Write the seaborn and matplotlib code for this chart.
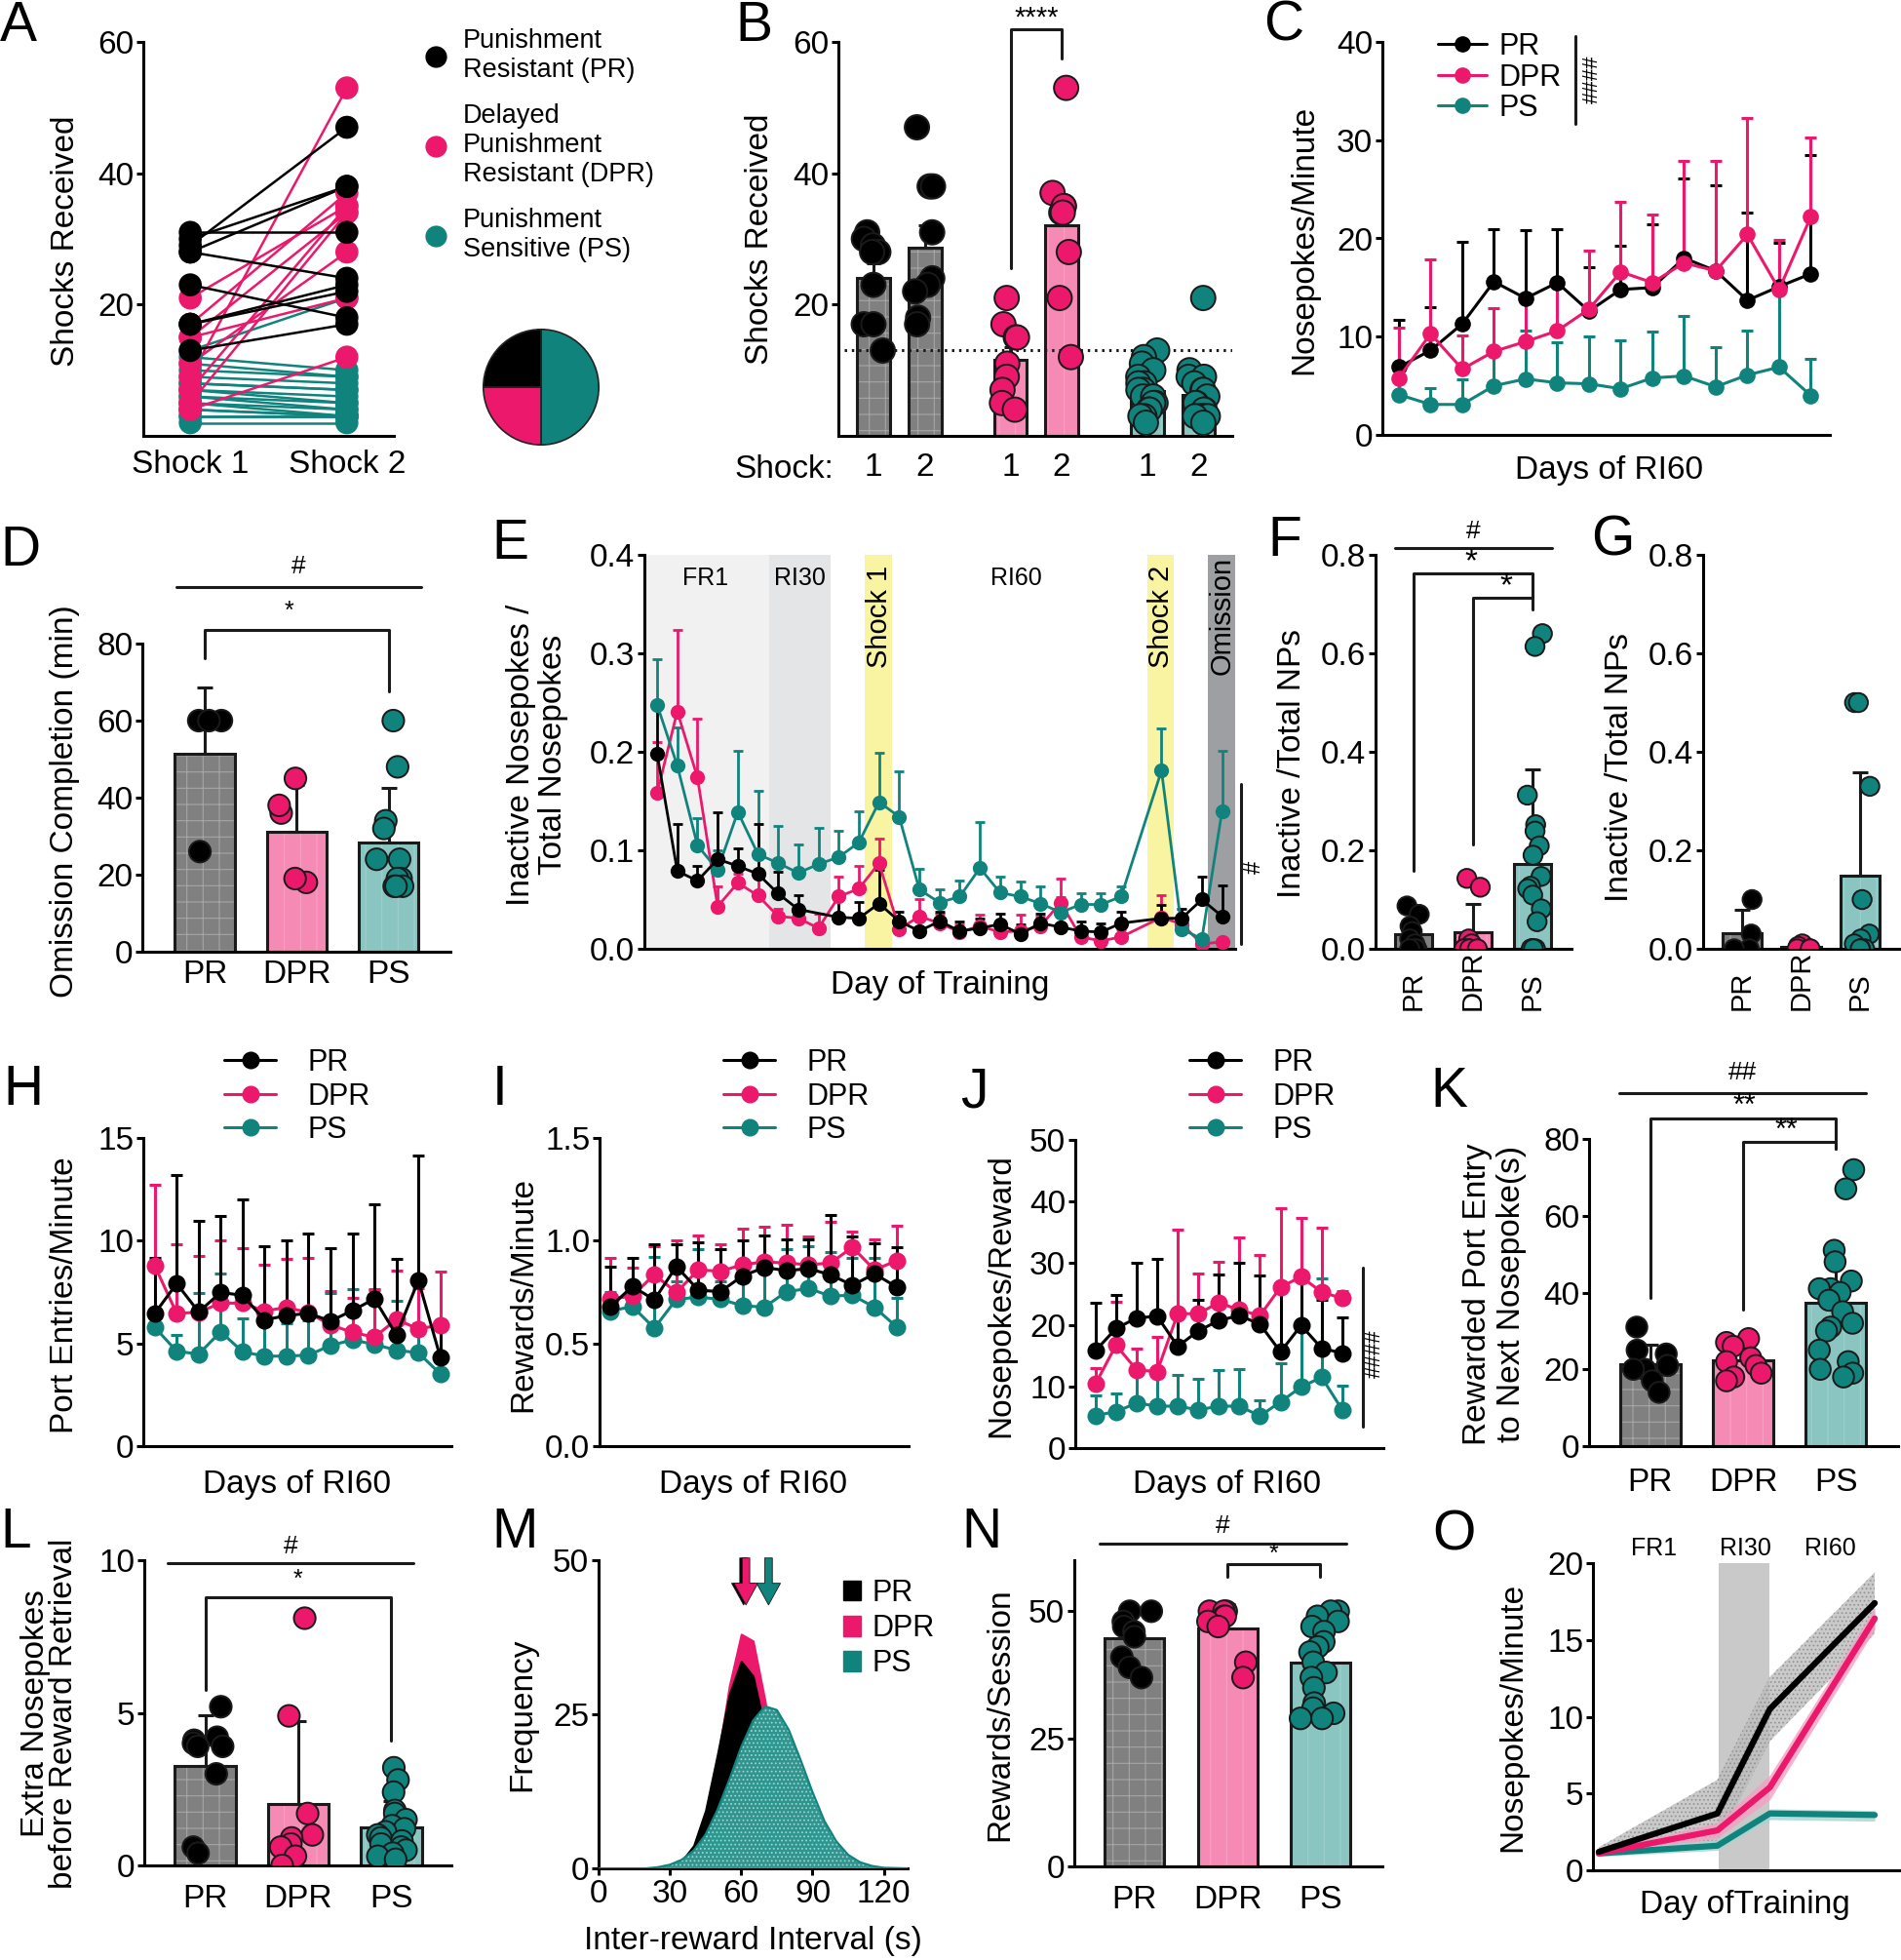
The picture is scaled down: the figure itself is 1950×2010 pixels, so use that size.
import numpy as np
import pandas as pd
import matplotlib
matplotlib.use("Agg")
import matplotlib.pyplot as plt
from matplotlib.colors import to_rgb
from matplotlib.lines import Line2D
from matplotlib.patches import Patch, Rectangle
from matplotlib.ticker import FormatStrFormatter
import seaborn as sns

GROUPS = ["PR", "DPR", "PS"]

# A / B : shocks received per rat in the two punished sessions
SHOCK1_PR = [31, 30, 29, 28, 28, 23, 17, 17, 13]
SHOCK2_PR = [31, 38, 47, 38, 24, 18, 23, 22, 17]
SHOCK1_DPR = [21, 17, 15, 15, 11, 9, 7, 5, 4]
SHOCK2_DPR = [35, 37, 34, 21, 28, 53, 35, 34, 12]
SHOCK1_PS = [13, 12, 11, 10, 9, 8, 8, 7, 7, 6, 6, 5, 5, 4, 4, 3, 3, 2]
SHOCK2_PS = [21, 10, 9, 9, 8, 7, 7, 6, 5, 5, 4, 4, 3, 3, 3, 3, 3, 2]
SHOCK_CUTOFF = 13

# C : nosepokes / minute over RI60 days (mean, top of error bar)
C_PR = [6.9, 8.6, 11.3, 15.6, 13.9, 15.5, 12.6, 14.8, 15.0, 18.0, 16.7, 13.7, 15.1, 16.4]
C_PR_TOP = [11.7, 13.0, 19.7, 20.9, 20.8, 20.9, 17.1, 19.3, 21.4, 26.1, 25.4, 22.6, 19.6, 28.5]
C_DPR = [5.8, 10.3, 6.7, 8.5, 9.5, 10.6, 12.8, 16.6, 15.5, 17.5, 16.7, 20.4, 14.8, 22.2]
C_DPR_TOP = [10.9, 17.9, 10.1, 12.9, 14.4, 15.9, 18.8, 23.7, 22.4, 27.9, 27.9, 32.3, 19.9, 30.3]
C_PS = [4.1, 3.1, 3.1, 5.0, 5.7, 5.3, 5.2, 4.7, 5.8, 6.0, 4.9, 6.1, 6.9, 4.0]
C_PS_TOP = [7.0, 4.8, 5.7, 8.2, 10.6, 9.4, 10.0, 9.6, 10.5, 12.1, 8.9, 10.6, 14.5, 7.7]

# D : omission completion (min)
D_PR = [60, 60, 60, 26]
D_DPR = [45, 36, 38, 18, 19]
D_PS = [60, 48, 34, 32, 24, 24, 19, 19, 17, 17, 17]

# E : inactive / total nosepokes by training day
nan = np.nan
E_DAYS = list(range(24)) + [25, 26, 27, 28]
E_PR = [0.198, 0.079, 0.069, 0.091, 0.084, 0.076, 0.056, 0.040, nan, 0.032,
        0.031, 0.046, 0.028, 0.018, 0.028, 0.018, 0.021, 0.025, 0.015, 0.026,
        0.022, 0.018, 0.017, 0.026, 0.031, 0.031, 0.050, 0.033]
E_PR_TOP = [0.245, 0.127, 0.084, 0.139, 0.102, 0.127, 0.078, 0.054, nan, 0.051,
            0.048, 0.080, 0.038, 0.030, 0.038, 0.028, 0.031, 0.036, 0.025, 0.036,
            0.034, 0.028, 0.026, 0.038, 0.045, 0.041, 0.073, 0.064]
E_DPR = [0.158, 0.241, 0.174, 0.043, 0.067, 0.054, 0.033, 0.031, 0.021, 0.053,
         0.061, 0.087, 0.020, 0.033, 0.026, 0.017, 0.023, 0.017, 0.018, 0.023,
         0.047, 0.012, 0.008, 0.012, 0.032, 0.025, 0.005, 0.007]
E_DPR_TOP = [0.210, 0.324, 0.234, 0.063, 0.076, 0.078, 0.041, 0.040, 0.036, 0.073,
             0.084, 0.112, 0.030, 0.050, 0.036, 0.025, 0.035, 0.028, 0.035, 0.033,
             0.071, 0.020, 0.020, 0.020, 0.054, 0.030, 0.006, 0.008]
E_PS = [0.248, 0.186, 0.105, 0.080, 0.139, 0.096, 0.087, 0.077, 0.086, 0.093,
        0.108, 0.149, 0.134, 0.060, 0.047, 0.053, 0.082, 0.057, 0.053, 0.046,
        0.037, 0.045, 0.045, 0.053, 0.181, 0.020, 0.010, 0.140]
E_PS_TOP = [0.294, 0.225, 0.133, 0.100, 0.201, 0.160, 0.125, 0.106, 0.123, 0.120,
            0.140, 0.199, 0.180, 0.081, 0.060, 0.069, 0.129, 0.073, 0.068, 0.063,
            0.052, 0.056, 0.056, 0.063, 0.224, 0.025, 0.012, 0.201]

# F / G : inactive / total nosepokes per rat
F_PR = [0.087, 0.07, 0.046, 0.035, 0.02, 0.01, 0.0, 0.0, 0.0]
F_DPR = [0.143, 0.125, 0.02, 0.01, 0.0, 0.0, 0.0, 0.0, 0.0]
F_PS = [0.64, 0.614, 0.312, 0.252, 0.239, 0.209, 0.19, 0.147, 0.127,
        0.122, 0.109, 0.081, 0.055, 0.0, 0.0, 0.0, 0.0, 0.0]
G_PR = [0.1, 0.03, 0.0, 0.0]
G_DPR = [0.01, 0.005, 0.0, 0.0, 0.0]
G_PS = [0.5, 0.5, 0.33, 0.1, 0.03, 0.02, 0.01, 0.0, 0.0, 0.0]

# H : port entries / minute
H_PR = [6.46, 7.91, 6.53, 7.48, 7.34, 6.14, 6.36, 6.46, 6.09, 6.6, 7.17, 5.41, 8.07, 4.32]
H_PR_TOP = [9.15, 13.2, 10.97, 11.2, 12.0, 9.73, 10.0, 10.36, 9.65, 10.33, 11.76, 9.1, 14.15, 6.14]
H_DPR = [8.78, 6.46, 6.52, 6.96, 6.96, 6.57, 6.76, 6.49, 5.9, 5.54, 5.3, 6.17, 5.7, 5.9]
H_DPR_TOP = [12.7, 9.84, 9.26, 10.03, 9.62, 8.81, 9.13, 9.18, 7.55, 7.2, 7.6, 8.54, 7.67, 8.5]
H_PS = [5.78, 4.62, 4.48, 5.57, 4.59, 4.38, 4.38, 4.43, 4.9, 5.17, 4.95, 4.67, 4.54, 3.51]
H_PS_TOP = [6.6, 5.41, 7.44, 8.42, 6.2, 5.9, 6.0, 6.1, 7.44, 7.63, 7.63, 7.09, 6.0, 4.5]

# I : rewards / minute
I_PR = [0.677, 0.778, 0.712, 0.875, 0.759, 0.752, 0.828, 0.870, 0.854, 0.864, 0.834, 0.783, 0.839, 0.775]
I_PR_TOP = [0.875, 0.918, 0.981, 0.981, 0.992, 0.957, 1.0, 1.024, 1.008, 1.005, 1.123, 1.02, 0.989, 0.97]
I_DPR = [0.715, 0.731, 0.835, 0.748, 0.858, 0.851, 0.883, 0.897, 0.891, 0.883, 0.891, 0.968, 0.858, 0.902]
I_DPR_TOP = [0.915, 0.867, 0.973, 1.0, 1.024, 0.984, 1.06, 1.066, 1.076, 1.02, 1.092, 1.044, 1.005, 1.071]
I_PS = [0.657, 0.68, 0.574, 0.715, 0.725, 0.715, 0.684, 0.676, 0.752, 0.767, 0.731, 0.734, 0.676, 0.581]
I_PS_TOP = [0.75, 0.77, 0.921, 0.8, 0.957, 0.8, 0.85, 0.86, 0.957, 0.973, 0.945, 0.918, 0.918, 0.72]

# J : nosepokes / reward
J_PR = [15.8, 19.4, 21.1, 21.4, 16.5, 19.0, 20.7, 21.5, 20.1, 15.6, 19.9, 16.2, 15.4]
J_PR_TOP = [23.5, 24.9, 30.1, 30.7, 22.0, 24.1, 28.2, 30.1, 28.0, 26.6, 28.1, 24.1, 21.2]
J_DPR = [10.4, 16.7, 12.7, 12.4, 21.8, 21.8, 23.6, 22.4, 21.5, 26.1, 27.8, 25.3, 24.3]
J_DPR_TOP = [13.0, 23.7, 16.1, 18.0, 35.5, 28.3, 30.3, 34.1, 31.3, 38.9, 37.4, 35.7, 25.5]
J_PS = [5.3, 5.9, 7.3, 6.8, 6.8, 6.2, 6.8, 6.8, 5.2, 7.5, 9.9, 11.5, 6.2]
J_PS_TOP = [8.6, 8.9, 11.9, 12.0, 11.8, 11.2, 12.6, 12.8, 7.8, 13.8, 20.0, 27.5, 10.2]

# K : rewarded port entry to next nosepoke (s)
K_PR = [31, 25, 24, 21, 21, 20, 20, 17, 14]
K_DPR = [28, 27, 26, 23, 22, 21, 19, 18, 17]
K_PS = [72, 67, 51, 48, 43, 41, 41, 40, 38, 35, 32, 31, 30, 25, 22, 20, 19, 18]

# L : extra nosepokes before reward retrieval
L_PR = [5.2, 4.2, 4.1, 4.0, 3.9, 3.9, 3.0, 0.6, 0.4]
L_DPR = [8.1, 4.9, 1.7, 1.0, 0.9, 0.7, 0.6, 0.3, 0.0]
L_PS = [3.2, 2.8, 2.4, 1.8, 1.7, 1.5, 1.3, 1.2, 1.1, 1.0, 0.9, 0.8, 0.7, 0.6, 0.5, 0.4, 0.3, 0.2]

# M : inter-reward interval distributions
M_SEC = [0, 20, 25, 30, 35, 40, 45, 50, 55, 60, 65, 70, 75, 80, 85, 90, 95, 100, 105, 110, 115, 120, 130]
M_PR = [0, 0, 0, 0.3, 1.2, 3.7, 9.4, 18.5, 28.2, 33.6, 31.2, 22.5, 12.7, 5.5, 1.9, 0.5, 0.1, 0, 0, 0, 0, 0, 0]
M_DPR = [0, 0, 0, 0.1, 0.7, 2.7, 7.8, 17.4, 29.6, 38.0, 36.9, 27.2, 15.2, 6.4, 2.1, 0.5, 0.1, 0, 0, 0, 0, 0, 0]
M_PS = [0, 0, 0.2, 0.6, 1.4, 2.9, 5.5, 9.5, 14.4, 19.7, 24.0, 26.3, 25.7, 22.5, 17.6, 12.4, 7.7, 4.4, 2.2, 1.0, 0.4, 0.1, 0]
M_PEAK = [61, 62, 71.5]

# N : rewards / session
N_PR = [50, 50, 48, 47, 46, 45, 41, 39, 37]
N_DPR = [50, 50, 50, 49, 49, 48, 47, 40, 37]
N_PS = [50, 50, 49, 48, 47, 46, 44, 43, 42, 40, 38, 37, 35, 32, 31, 30, 29, 29]

# O : nosepokes / minute across training phases (mean and band)
O_DAY = [0, 4.3, 6.2, 10]
O_PR = [1.2, 3.7, 10.5, 17.4]
O_PR_LO = [1.0, 1.8, 8.4, 15.4]
O_PR_HI = [1.5, 5.9, 12.6, 19.4]
O_DPR = [1.1, 2.6, 5.4, 16.4]
O_DPR_LO = [0.9, 2.1, 4.6, 15.7]
O_DPR_HI = [1.3, 3.1, 6.2, 17.1]
O_PS = [1.1, 1.6, 3.7, 3.6]
O_PS_LO = [0.9, 1.3, 3.3, 3.2]
O_PS_HI = [1.3, 2.0, 4.0, 3.9]

# ---------------- style ----------------
sns.set_theme(style="ticks")
FONT = "Liberation Sans"
plt.rcParams["font.family"] = [FONT, "DejaVu Sans"]
for k in ["axes.edgecolor", "xtick.color", "ytick.color", "text.color", "axes.labelcolor"]:
    plt.rcParams[k] = "black"
plt.rcParams["axes.linewidth"] = 2.2
plt.rcParams["hatch.linewidth"] = 0.8

PINK = "#EC186C"
TEAL = "#11837D"
DOT_PAL = {"PR": "#000000", "DPR": PINK, "PS": TEAL}
BAR_PAL = {"PR": "#808080", "DPR": "#F58AB5", "PS": "#8BC5C2"}
HATCH = {"PR": ("+", "#A6A6A6"), "DPR": ("|", "#F8A2C5"), "PS": ("|", "#9ED0CD")}

TICK, LAB, LEG, LET = 24, 24, 22, 41
HASH, STAR = 19, 22

W, H = 1950, 2010
fig = plt.figure(figsize=(W / 100, H / 100), dpi=100)
np.random.seed(11)


def px_axes(l, t, r, b):
    return fig.add_axes([l / W, 1 - b / H, (r - l) / W, (b - t) / H])


def ftext(x, y, s, **kw):
    fig.text(x / W, 1 - y / H, s, **kw)


def letter(x, y, s):
    ftext(x, y, s, fontsize=LET, ha="left", va="baseline")


def base(ax, ylim, yticks, xlim, fmt=None, xpad=6):
    sns.despine(ax=ax)
    ax.set_ylim(*ylim)
    ax.set_yticks(yticks)
    ax.set_xlim(*xlim)
    if fmt:
        ax.yaxis.set_major_formatter(FormatStrFormatter(fmt))
    ax.tick_params(axis="y", length=5, width=2.2, labelsize=TICK, pad=2)
    ax.tick_params(axis="x", length=0, labelsize=TICK, pad=xpad)
    ax.set_xlabel("")
    ax.set_ylabel("")
    ax.set_facecolor("none")


def ylab(ax, s, cx, cy, ls=1.1, size=LAB):
    ax.set_ylabel(s, fontsize=size, linespacing=ls)
    ax.yaxis.set_label_coords(cx / W, 1 - cy / H, transform=fig.transFigure)
    ax.yaxis.label.set_verticalalignment("center")


def xlab(ax, s, cx, cy, size=LAB):
    ax.set_xlabel(s, fontsize=size)
    ax.xaxis.set_label_coords(cx / W, 1 - cy / H, transform=fig.transFigure)
    ax.xaxis.label.set_verticalalignment("center")


def texture(ax):
    for p in list(ax.patches):
        fc = np.array(p.get_facecolor()[:3])
        g = min(BAR_PAL, key=lambda k: np.abs(np.array(to_rgb(BAR_PAL[k])) - fc).sum())
        h, hc = HATCH[g]
        p.set_hatch(h)
        p.set_edgecolor(hc)
        p.set_linewidth(0)
        ax.add_patch(Rectangle(p.get_xy(), p.get_width(), p.get_height(), fill=False,
                               ec="k", lw=2.2, zorder=p.get_zorder() + 0.01))


def bar_dots(ax, vals, width, dot, jit=0.2):
    df = pd.DataFrame({"group": np.repeat(GROUPS, [len(v) for v in vals]),
                       "value": np.concatenate([np.asarray(v, float) for v in vals])})
    sns.barplot(data=df, x="group", y="value", hue="group", order=GROUPS, hue_order=GROUPS,
                palette=BAR_PAL, errorbar=None, width=width, saturation=1, legend=False, ax=ax)
    texture(ax)
    st = df.groupby("group")["value"].agg(["mean", "std"]).reindex(GROUPS)
    ax.errorbar(np.arange(3), st["mean"].to_numpy(), yerr=[np.zeros(3), st["std"].to_numpy()],
                fmt="none", ecolor="k", elinewidth=2.2, capsize=6, capthick=2.2, zorder=3)
    sns.stripplot(data=df, x="group", y="value", hue="group", order=GROUPS, hue_order=GROUPS,
                  palette=DOT_PAL, jitter=jit, size=dot, linewidth=1.4, edgecolor="k",
                  legend=False, ax=ax, zorder=4)


def line_panel(ax, x, means, tops, order, ms, lw=2.2, cap=4.5):
    rows = []
    for g in GROUPS:
        for xi, m, t in zip(x, means[g], tops[g]):
            if not np.isnan(m):
                rows.append((g, xi, m, t))
    df = pd.DataFrame(rows, columns=["group", "x", "mean", "top"])
    for g in order:
        d = df[df.group == g]
        ax.errorbar(d["x"].to_numpy(), d["mean"].to_numpy(),
                    yerr=[np.zeros(len(d)), (d["top"] - d["mean"]).to_numpy()],
                    fmt="none", ecolor=DOT_PAL[g], elinewidth=lw, capsize=cap, capthick=lw, zorder=2)
    sns.lineplot(data=df, x="x", y="mean", hue="group", hue_order=order, palette=DOT_PAL,
                 marker="o", markersize=ms, markeredgewidth=0, lw=lw, errorbar=None,
                 legend=False, ax=ax, zorder=3)


def line_legend(ax, x, y, ms, hl=1.7, pad=0.45, ls=0.12):
    hs = [Line2D([], [], color=DOT_PAL[g], marker="o", ms=ms, mew=0, lw=2.2) for g in GROUPS]
    ax.legend(hs, GROUPS, loc="upper left", bbox_to_anchor=(x / W, 1 - y / H),
              bbox_transform=fig.transFigure, frameon=False, fontsize=LEG, handlelength=hl,
              handletextpad=pad, labelspacing=ls, borderpad=0, borderaxespad=0)


def sig_line(ax, x1, x2, y, label, ty):
    ax.plot([x1, x2], [y, y], color="k", lw=2.2, clip_on=False)
    ax.text((x1 + x2) / 2, ty, label, ha="center", va="center", fontsize=HASH, clip_on=False)


def bracket(ax, x1, x2, top, y1, y2, label, tx, ty, size=STAR):
    ax.plot([x1, x1, x2, x2], [y1, top, top, y2], color="k", lw=2.2, clip_on=False)
    ax.text(tx, ty, label, ha="center", va="center", fontsize=size, clip_on=False)


# ---------------- A ----------------
S1 = {"PR": SHOCK1_PR, "DPR": SHOCK1_DPR, "PS": SHOCK1_PS}
S2 = {"PR": SHOCK2_PR, "DPR": SHOCK2_DPR, "PS": SHOCK2_PS}
A_ORDER = ["PS", "DPR", "PR"]
rows = []
for g in A_ORDER:
    for i, (a, b) in enumerate(zip(S1[g], S2[g])):
        rows += [(g, f"{g}{i}", 0, a), (g, f"{g}{i}", 1, b)]
dfA = pd.DataFrame(rows, columns=["group", "animal", "shock", "value"])
axA = px_axes(147, 43, 404, 447)
sns.lineplot(data=dfA, x="shock", y="value", hue="group", hue_order=A_ORDER, units="animal",
             estimator=None, palette=DOT_PAL, lw=1.8, legend=False, ax=axA)
sns.scatterplot(data=dfA, x="shock", y="value", hue="group", hue_order=A_ORDER, palette=DOT_PAL,
                s=290, linewidth=0, legend=False, ax=axA, zorder=3)
base(axA, (0, 60), [20, 40, 60], (-0.3, 1.3), xpad=10)
axA.set_xticks([0, 1])
axA.set_xticklabels(["Shock 1", "Shock 2"])
ylab(axA, "Shocks Received", 67, 247)
hsA = [Line2D([], [], ls="none", marker="o", ms=16, color=DOT_PAL[g], mew=0) for g in GROUPS]
axA.legend(hsA, ["Punishment\nResistant (PR)", "Delayed\nPunishment\nResistant (DPR)",
                 "Punishment\nSensitive (PS)"],
           loc="upper left", bbox_to_anchor=(433 / W, 1 - 29 / H), bbox_transform=fig.transFigure,
           frameon=False, fontsize=19.5, handlelength=1.0, handletextpad=0.55, labelspacing=0.78,
           borderpad=0, borderaxespad=0)
axPie = px_axes(481, 323, 629, 471)
axPie.pie([len(SHOCK1_PS), len(SHOCK1_DPR), len(SHOCK1_PR)], colors=[TEAL, PINK, "black"],
          startangle=90, counterclock=False, wedgeprops=dict(edgecolor="#222222", linewidth=1.2))
axPie.set_aspect("equal")
letter(0, 42, "A")

# ---------------- B ----------------
B_STEP = 2.67
rows = []
for gi, g in enumerate(GROUPS):
    for si, vals in enumerate([S1[g], S2[g]]):
        for v in vals:
            rows.append((g, si + 1, gi * B_STEP + si, v))
dfB = pd.DataFrame(rows, columns=["group", "shock", "pos", "value"])
axB = px_axes(860, 43, 1264, 447)
sns.barplot(data=dfB, x="pos", y="value", hue="group", hue_order=GROUPS, palette=BAR_PAL,
            native_scale=True, dodge=False, errorbar=None, width=0.64, saturation=1,
            legend=False, ax=axB)
texture(axB)
stB = dfB.groupby("pos")["value"].agg(["mean", "sem"])
axB.errorbar(stB.index.to_numpy(), stB["mean"].to_numpy(), yerr=[np.zeros(len(stB)), stB["sem"].to_numpy()],
             fmt="none", ecolor="k", elinewidth=2.2, capsize=5, capthick=2.2, zorder=3)
axB.axhline(SHOCK_CUTOFF, xmin=0.016, xmax=1, color="k", lw=2.2, ls=(0, (0.8, 1.6)), zorder=2)
sns.stripplot(data=dfB, x="pos", y="value", hue="group", hue_order=GROUPS, palette=DOT_PAL,
              native_scale=True, dodge=False, jitter=0.2, size=18, linewidth=1.4, edgecolor="k",
              legend=False, ax=axB, zorder=4)
base(axB, (0, 60), [20, 40, 60], (-0.69, 7.0), xpad=12)
axB.set_xticks(stB.index.to_numpy())
axB.set_xticklabels([str(s) for s in dfB.groupby("pos")["shock"].first()])
ftext(855, 482, "Shock:", ha="right", va="center", fontsize=TICK)
ylab(axB, "Shocks Received", 780, 245)
bracket(axB, B_STEP, B_STEP + 1, 62, 25.5, 57.5, "****", B_STEP + 0.5, 63.6, size=21)
letter(754, 42, "B")

# ---------------- C ----------------
axC = px_axes(1418, 43, 1877, 446)
dC = np.arange(len(C_PR))
line_panel(axC, dC, {"PR": C_PR, "DPR": C_DPR, "PS": C_PS},
           {"PR": C_PR_TOP, "DPR": C_DPR_TOP, "PS": C_PS_TOP}, ["PS", "PR", "DPR"], ms=12)
base(axC, (0, 40), [0, 10, 20, 30, 40], (-0.52, 13.6))
axC.set_xticks([])
ylab(axC, "Nosepokes/Minute", 1338, 246)
xlab(axC, "Days of RI60", 1650, 482)
line_legend(axC, 1475, 33, 12, hl=1.65, pad=0.4, ls=0.05)
axC.plot([5.57, 5.57], [31.7, 40.6], color="k", lw=2.2, clip_on=False)
axC.text(6.1, 36.2, "####", rotation=90, ha="center", va="center", fontsize=HASH - 3)
letter(1296, 42, "C")

# ---------------- D ----------------
axD = px_axes(146, 660, 462, 976)
bar_dots(axD, [D_PR, D_DPR, D_PS], 0.65, 16)
base(axD, (0, 80), [0, 20, 40, 60, 80], (-0.68, 2.67), xpad=6)
ylab(axD, "Omission Completion (min)", 67, 822)
sig_line(axD, -0.31, 2.35, 94.7, "#", 100)
bracket(axD, 0, 2, 83.5, 76.2, 67.6, "*", 0.92, 88.5, size=18)
letter(0, 580, "D")

# ---------------- E ----------------
axE = px_axes(661, 569, 1267, 973)
E_SPANS = [(-0.63, 5.54, "#F1F1F2"), (5.54, 8.6, "#E4E5E7"), (10.3, 11.66, "#F8F4A2"),
           (24.3, 25.6, "#F8F4A2"), (27.3, 28.65, "#9D9FA2")]
for x0, x1, c in E_SPANS:
    axE.axvspan(x0, x1, color=c, lw=0, zorder=0)
for s, x, y, r, fs in [("FR1", 2.4, 0.376, 0, 18), ("RI30", 7.05, 0.376, 0, 18),
                       ("RI60", 17.8, 0.376, 0, 18), ("Shock 1", 11.0, 0.337, 90, 21),
                       ("Shock 2", 25.0, 0.337, 90, 21), ("Omission", 27.98, 0.338, 90, 21)]:
    axE.text(x, y, s, rotation=r, ha="center", va="center", fontsize=fs, zorder=1)
line_panel(axE, E_DAYS, {"PR": E_PR, "DPR": E_DPR, "PS": E_PS},
           {"PR": E_PR_TOP, "DPR": E_DPR_TOP, "PS": E_PS_TOP}, ["DPR", "PS", "PR"], ms=11,
           lw=2.0, cap=3.5)
base(axE, (0, 0.4), [0.0, 0.1, 0.2, 0.3, 0.4], (-0.63, 28.65), fmt="%.1f")
axE.set_xticks([])
ylab(axE, "Inactive Nosepokes /\nTotal Nosepokes", 551, 774, ls=1.05)
xlab(axE, "Day of Training", 964, 1010)
axE.plot([28.94, 28.94], [0.005, 0.167], color="k", lw=2.2, clip_on=False)
axE.text(29.6, 0.083, "#", rotation=90, ha="center", va="center", fontsize=HASH - 2)
letter(504, 573, "E")

# ---------------- F / G ----------------
def rotated_groups(ax, pad):
    ax.set_xticks(range(3))
    ax.set_xticklabels(GROUPS)
    ax.tick_params(axis="x", pad=pad, labelsize=21)
    for lbl in ax.get_xticklabels():
        lbl.set_rotation(90)
        lbl.set_rotation_mode("anchor")
        lbl.set_horizontalalignment("left")
        lbl.set_verticalalignment("center")


axF = px_axes(1411, 569, 1612, 973)
bar_dots(axF, [F_PR, F_DPR, F_PS], 0.62, 14, jit=0.18)
base(axF, (0, 0.8), [0.0, 0.2, 0.4, 0.6, 0.8], (-0.64, 2.66), fmt="%.1f")
rotated_groups(axF, 45)
ylab(axF, "Inactive /Total NPs", 1325, 783)
sig_line(axF, -0.31, 2.33, 0.814, "#", 0.848)
bracket(axF, 0, 2, 0.762, 0.158, 0.713, "*", 0.97, 0.785, size=24)
bracket(axF, 1, 2, 0.713, 0.211, 0.69, "*", 1.56, 0.735, size=24)
letter(1300, 570, "F")

axG = px_axes(1747, 569, 1948, 973)
bar_dots(axG, [G_PR, G_DPR, G_PS], 0.67, 14, jit=0.18)
base(axG, (0, 0.8), [0.0, 0.2, 0.4, 0.6, 0.8], (-0.66, 2.66), fmt="%.1f")
rotated_groups(axG, 45)
ylab(axG, "Inactive /Total NPs", 1661, 787)
letter(1632, 570, "G")

# ---------------- H / I / J ----------------
axH = px_axes(147, 1167, 463, 1483)
line_panel(axH, np.arange(len(H_PR)), {"PR": H_PR, "DPR": H_DPR, "PS": H_PS},
           {"PR": H_PR_TOP, "DPR": H_DPR_TOP, "PS": H_PS_TOP}, ["PS", "DPR", "PR"], ms=13)
base(axH, (0, 15), [0, 5, 10, 15], (-0.52, 13.5))
axH.set_xticks([])
ylab(axH, "Port Entries/Minute", 67, 1328)
xlab(axH, "Days of RI60", 305, 1523)
line_legend(axH, 230, 1075, 13, hl=1.75, pad=1.05, ls=0.15)
letter(3, 1133, "H")

axI = px_axes(615, 1167, 932, 1483)
line_panel(axI, np.arange(len(I_PR)), {"PR": I_PR, "DPR": I_DPR, "PS": I_PS},
           {"PR": I_PR_TOP, "DPR": I_DPR_TOP, "PS": I_PS_TOP}, ["PS", "DPR", "PR"], ms=13)
base(axI, (0, 1.5), [0.0, 0.5, 1.0, 1.5], (-0.49, 13.55), fmt="%.1f")
axI.set_xticks([])
ylab(axI, "Rewards/Minute", 537, 1327)
xlab(axI, "Days of RI60", 772, 1523)
line_legend(axI, 742, 1075, 13, hl=1.75, pad=1.05, ls=0.15)
letter(505, 1133, "I")

axJ = px_axes(1103, 1169, 1419, 1485)
line_panel(axJ, np.arange(len(J_PR)), {"PR": J_PR, "DPR": J_DPR, "PS": J_PS},
           {"PR": J_PR_TOP, "DPR": J_DPR_TOP, "PS": J_PS_TOP}, ["PS", "DPR", "PR"], ms=13)
base(axJ, (0, 50), [0, 10, 20, 30, 40, 50], (-0.98, 14.0))
axJ.set_xticks([])
ylab(axJ, "Nosepokes/Reward", 1027, 1329)
xlab(axJ, "Days of RI60", 1258, 1523)
line_legend(axJ, 1220, 1075, 13, hl=1.75, pad=1.05, ls=0.15)
axJ.plot([12.99, 12.99], [3.5, 29.3], color="k", lw=2.2, clip_on=False)
axJ.text(13.6, 15.3, "####", rotation=90, ha="center", va="center", fontsize=HASH - 3)
letter(985, 1135, "J")

# ---------------- K ----------------
axK = px_axes(1630, 1168, 1947, 1483)
bar_dots(axK, [K_PR, K_DPR, K_PS], 0.65, 15.5)
base(axK, (0, 80), [0, 20, 40, 60, 80], (-0.66, 2.67), xpad=16)
ylab(axK, "Rewarded Port Entry\nto Next Nosepoke(s)", 1533, 1327, ls=1.15)
sig_line(axK, -0.33, 2.32, 91.9, "##", 97.2)
bracket(axK, 0, 2, 85.4, 38.5, 77.5, "**", 1.02, 88.3)
bracket(axK, 1, 2, 79.2, 35.6, 77.5, "**", 1.47, 82.1)
letter(1467, 1135, "K")

# ---------------- L ----------------
axL = px_axes(148, 1600, 463, 1913)
bar_dots(axL, [L_PR, L_DPR, L_PS], 0.66, 16)
base(axL, (0, 10), [0, 5, 10], (-0.66, 2.65), xpad=14)
ylab(axL, "Extra Nosepokes\nbefore Reward Retrieval", 51, 1757, ls=0.95)
sig_line(axL, -0.41, 2.24, 9.9, "#", 10.45)
bracket(axL, 0, 2, 8.8, 5.74, 4.1, "*", 1.0, 9.35, size=18)
letter(0, 1587, "L")

# ---------------- M ----------------
axM = px_axes(614, 1600, 931, 1916)
axM.fill_between(M_SEC, M_DPR, color=PINK, lw=1.5, zorder=1)
axM.fill_between(M_SEC, M_PR, color="black", lw=1.5, zorder=2)
axM.fill_between(M_SEC, M_PS, facecolor="#2E958F", edgecolor="#9FD3CF", hatch="....", lw=0, zorder=3)
sns.lineplot(x=M_SEC, y=M_PS, color=TEAL, lw=1.5, ax=axM, zorder=3.1)
for g, xp in zip(GROUPS, M_PEAK):
    axM.annotate("", xy=(xp, 42.3), xytext=(xp, 50.8),
                 arrowprops=dict(arrowstyle="simple,head_width=1.1,head_length=1.0,tail_width=0.35",
                                 fc=DOT_PAL[g], ec="k", lw=0.6, mutation_scale=16),
                 annotation_clip=False, zorder=5)
base(axM, (0, 50), [0, 25, 50], (0, 130), xpad=3)
axM.set_xticks([0, 30, 60, 90, 120])
axM.tick_params(axis="x", length=5, width=2.2)
ylab(axM, "Frequency", 536, 1758)
xlab(axM, "Inter-reward Interval (s)", 772, 1990)
axM.legend([Patch(color=DOT_PAL[g]) for g in GROUPS], GROUPS, loc="upper left",
           bbox_to_anchor=(865 / W, 1 - 1619 / H), bbox_transform=fig.transFigure, frameon=False,
           fontsize=LEG, handlelength=0.6, handleheight=0.65, handletextpad=0.35, labelspacing=0.2,
           borderpad=0, borderaxespad=0)
letter(504, 1587, "M")

# ---------------- N ----------------
axN = px_axes(1102, 1600, 1418, 1914)
bar_dots(axN, [N_PR, N_DPR, N_PS], 0.64, 16, jit=0.22)
base(axN, (0, 60), [0, 25, 50], (-0.65, 2.67), xpad=14)
ylab(axN, "Rewards/Session", 1026, 1758)
sig_line(axN, -0.38, 2.28, 63.2, "#", 66.6)
bracket(axN, 1, 2, 59.2, 56.8, 56.8, "*", 1.5, 61.2, size=18)
letter(986, 1587, "N")

# ---------------- O ----------------
axO = px_axes(1634, 1603, 1948, 1918)
axO.axvspan(O_DAY[1] + 0.03, O_DAY[2] - 0.02, color="#C9C9C9", lw=0, zorder=0)
axO.fill_between(O_DAY, O_PR_LO, O_PR_HI, facecolor="#BDBDBD", edgecolor="#8C8C8C",
                 hatch="....", lw=0, alpha=0.8, zorder=1)
axO.fill_between(O_DAY, O_DPR_LO, O_DPR_HI, color="#F4A0C1", lw=0, alpha=0.8, zorder=1)
axO.fill_between(O_DAY, O_PS_LO, O_PS_HI, color="#A5D5D2", lw=0, alpha=0.8, zorder=1)
rows = []
for g, ys in zip(GROUPS, [O_PR, O_DPR, O_PS]):
    rows += [(g, d, y) for d, y in zip(O_DAY, ys)]
dfO = pd.DataFrame(rows, columns=["group", "day", "value"])
sns.lineplot(data=dfO, x="day", y="value", hue="group", hue_order=["PS", "DPR", "PR"],
             palette=DOT_PAL, lw=4.5, errorbar=None, legend=False, ax=axO, zorder=2)
base(axO, (0, 20), [0, 5, 10, 15, 20], (-0.21, 10.88))
axO.set_xticks([])
for s, x in [("FR1", 2.0), ("RI30", 5.3), ("RI60", 8.4)]:
    axO.text(x, 20.95, s, ha="center", va="center", fontsize=18, clip_on=False)
ylab(axO, "Nosepokes/Minute", 1552, 1761)
xlab(axO, "Day ofTraining", 1790, 1953)
letter(1469, 1589, "O")

fig.savefig("out.png", dpi=100)
